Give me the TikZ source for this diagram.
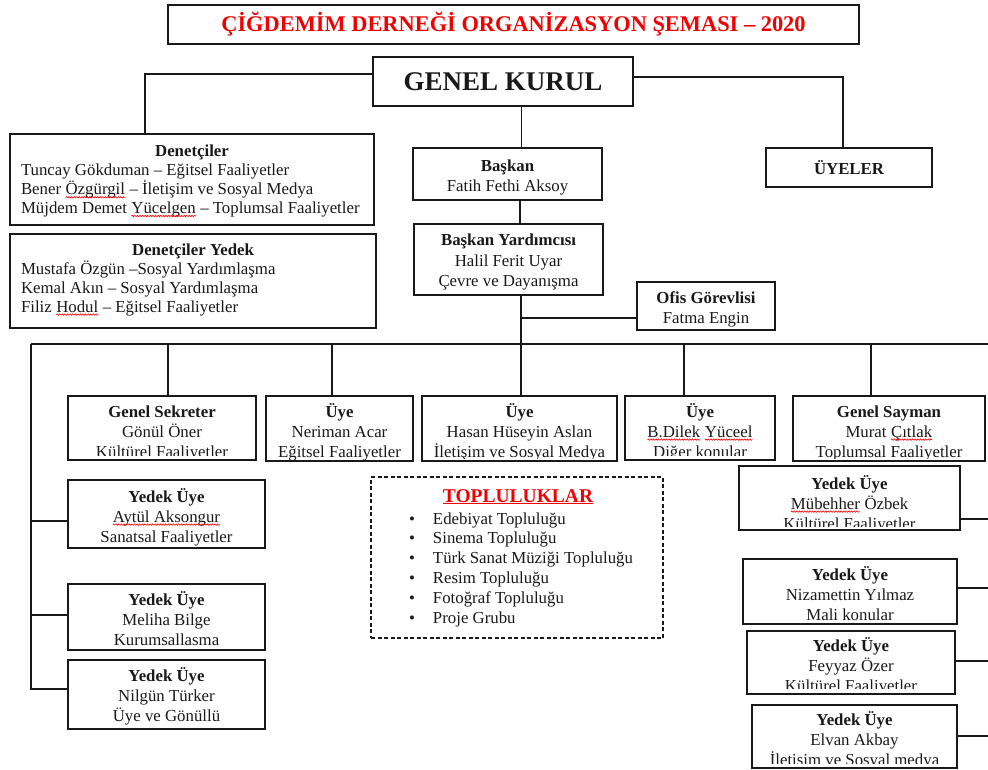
\documentclass[tikz,border=0pt]{standalone}
\usepackage{fontspec}
\setmainfont{Liberation Serif}
\usetikzlibrary{decorations.pathmorphing}
\definecolor{ink}{RGB}{25,25,25}
\definecolor{tred}{RGB}{240,0,0}
\tikzset{
  box/.style={draw=ink, line width=1.4pt, inner sep=0pt, outer sep=0pt},
  txt/.style={inner sep=0pt, outer sep=0pt, minimum width=0pt, minimum height=0pt, align=center, text=ink, font=\fontsize{16.8}{20}\selectfont},
  conn/.style={draw=ink, line width=1.1pt},
  dbox/.style={draw=ink, line width=1.2pt, dash pattern=on 4pt off 2.5pt, inner sep=0pt},
}
\newcommand\sq[1]{\tikz[baseline=(sqw.base)]{\node[inner sep=0pt,outer sep=0pt,minimum width=0pt,minimum height=0pt,anchor=base](sqw){#1};\draw[tred,line width=0.6pt,decorate,decoration={snake,amplitude=0.7pt,segment length=2.6pt}]([yshift=-2.6pt]sqw.base west)--([yshift=-2.6pt]sqw.base east);}}
% name, x1, y1, x2, y2, first baseline offset, clip inset, text
\newcommand\obox[8]{%
  \node[box, minimum width={(#4-#2)*1pt}, minimum height={(#5-#3)*1pt}] (#1) at ({(#2+#4)/2},{(#3+#5)/2}) {};
  \begin{scope}
    \clip (#1.north west) rectangle ([yshift=#7pt]#1.south east);
    \node[txt, anchor=north] (#1-t) at ([yshift={(16-#6)*1pt}]#1.north) {\rule{0pt}{16pt}#8};
  \end{scope}}
\begin{document}
\begin{tikzpicture}[x=1pt,y=-1pt]
\useasboundingbox (0,0) rectangle (988,770);

% title
\node[box, minimum width=691pt, minimum height=39pt, text=tred, font=\bfseries\fontsize{22.4}{24}\selectfont] (title) at (513.5,24.5) {ÇİĞDEMİM DERNEĞİ ORGANİZASYON ŞEMASI – 2020};

% genel kurul
\node[box, minimum width=260pt, minimum height=49pt, text=ink, font=\bfseries\fontsize{27}{30}\selectfont] (gk) at (503,81.5) {GENEL KURUL};

% üyeler
\node[box, minimum width=166pt, minimum height=39pt, text=ink, font=\bfseries\fontsize{16.8}{20}\selectfont] (uye) at (849,167.5) {ÜYELER};

% denetçiler
\node[box, minimum width=364pt, minimum height=91pt] (den) at (192,179.5) {};
\node[txt, anchor=base, font=\bfseries\fontsize{16.8}{20}\selectfont] (den-h) at (192,157) {Denetçiler};
\node[txt, anchor=north west, align=left, font=\fontsize{16.8}{18.7}\selectfont] (den-b) at (21,160) {\rule{0pt}{16pt}Tuncay Gökduman – Eğitsel Faaliyetler\\Bener \sq{Özgürgil} – İletişim ve Sosyal Medya\\Müjdem Demet \sq{Yücelgen} – Toplumsal Faaliyetler};

\node[box, minimum width=366pt, minimum height=94pt] (dey) at (193,281) {};
\node[txt, anchor=base, font=\bfseries\fontsize{16.8}{20}\selectfont] (dey-h) at (193,255) {Denetçiler Yedek};
\node[txt, anchor=north west, align=left, font=\fontsize{16.8}{19}\selectfont] (dey-b) at (21,258) {\rule{0pt}{16pt}Mustafa Özgün –Sosyal Yardımlaşma\\Kemal Akın – Sosyal Yardımlaşma\\Filiz \sq{Hodul} – Eğitsel Faaliyetler};

% başkan etc.
\obox{bas}{413}{148}{602}{200}{24}{0}{\textbf{Başkan}\\Fatih Fethi Aksoy}
\obox{yrd}{414}{224}{603}{295}{22}{0}{\textbf{Başkan Yardımcısı}\\Halil Ferit Uyar\\Çevre ve Dayanışma}
\obox{ofis}{637}{282}{775}{330}{21}{0}{\textbf{Ofis Görevlisi}\\Fatma Engin}

% row
\obox{gs}{68}{396}{256}{460}{21}{5}{\textbf{Genel Sekreter}\\Gönül Öner\\Kültürel Faaliyetler}
\obox{ner}{266}{396}{413}{461}{21}{0}{\textbf{Üye}\\Neriman Acar\\Eğitsel Faaliyetler}
\obox{has}{422}{396}{617}{461}{21}{2.8}{\textbf{Üye}\\Hasan Hüseyin Aslan\\İletişim ve Sosyal Medya}
\obox{dil}{625}{396}{775}{460}{21}{5}{\textbf{Üye}\\\sq{B.Dilek} \sq{Yüceel}\\Diğer konular}
\obox{say}{793}{396}{985}{461}{21}{2.8}{\textbf{Genel Sayman}\\Murat \sq{Çıtlak}\\Toplumsal Faaliyetler}

% left yedek
\obox{ayt}{68}{480}{265}{548}{22}{0}{\textbf{Yedek Üye}\\\sq{Aytül Aksongur}\\Sanatsal Faaliyetler}
\obox{mel}{68}{584}{265}{650}{21}{0}{\textbf{Yedek Üye}\\Meliha Bilge\\Kurumsallasma}
\obox{nil}{68}{660}{265}{729}{21}{0}{\textbf{Yedek Üye}\\Nilgün Türker\\Üye ve Gönüllü}

% right yedek
\obox{mub}{739}{466}{960}{530}{23}{4}{\textbf{Yedek Üye}\\\sq{Mübehher} Özbek\\Kültürel Faaliyetler}
\obox{niz}{743}{559}{957}{624}{21}{0}{\textbf{Yedek Üye}\\Nizamettin Yılmaz\\Mali konular}
\obox{fey}{747}{631}{955}{694}{20}{6}{\textbf{Yedek Üye}\\Feyyaz Özer\\Kültürel Faaliyetler}
\obox{elv}{752}{705}{957}{768}{20}{4.5}{\textbf{Yedek Üye}\\Elvan Akbay\\İletişim ve Sosyal medya}

% topluluklar
\node[dbox, minimum width=292pt, minimum height=161pt] (top) at (517,557.5) {};
\node[txt, anchor=base, text=tred, font=\bfseries\fontsize{19.5}{22}\selectfont] (top-h) at (518,502) {\underline{TOPLULUKLAR}};
\node[txt, anchor=north west, align=left, font=\fontsize{16.8}{19.8}\selectfont] (top-b) at (409,508) {\rule{0pt}{16pt}\makebox[24pt][l]{•}Edebiyat Topluluğu\\\makebox[24pt][l]{•}Sinema Topluluğu\\\makebox[24pt][l]{•}Türk Sanat Müziği Topluluğu\\\makebox[24pt][l]{•}Resim Topluluğu\\\makebox[24pt][l]{•}Fotoğraf Topluluğu\\\makebox[24pt][l]{•}Proje Grubu};

% connectors
\coordinate (busL) at (31,344);
\coordinate (busR) at (988,344);
\draw[conn] ([yshift=7.5pt]gk.west) -| ([xshift=-47pt]den.north);
\draw[conn] ([yshift=4.5pt]gk.east) -| ([xshift=-6pt]uye.north);
\draw[conn] ([xshift=14pt]bas.north) -- ([xshift=14pt]bas.north |- gk.south);
\draw[conn] ([xshift=11.5pt]yrd.north) -- ([xshift=11.5pt]yrd.north |- bas.south);
\coordinate (yv) at ([xshift=12.5pt]yrd.south);
\draw[conn] (yv) -- (yv |- busL);
\draw[conn] ([yshift=-12pt]ofis.west) -- ([yshift=-12pt]ofis.west -| yv);
\draw[conn] (busL) -- (busR);
\foreach \n/\s in {gs/6, ner/-7.5, has/1.5, dil/-16, say/-18}
  \draw[conn] ([xshift=\s pt]\n.north) -- ([xshift=\s pt]\n.north |- busL);
\draw[conn] (busL) -- ([yshift=5.5pt]nil.west -| busL) -- ([yshift=5.5pt]nil.west);
\draw[conn] ([yshift=-7pt]ayt.west) -- ([yshift=-7pt]ayt.west -| busL);
\draw[conn] ([yshift=2pt]mel.west) -- ([yshift=2pt]mel.west -| busL);
\foreach \n/\s in {mub/-21, niz/3.5, fey/1.5, elv/0.5}
  \draw[conn] ([yshift=\s pt]\n.east) -- ([yshift=\s pt]\n.east -| busR);
\end{tikzpicture}
\end{document}
